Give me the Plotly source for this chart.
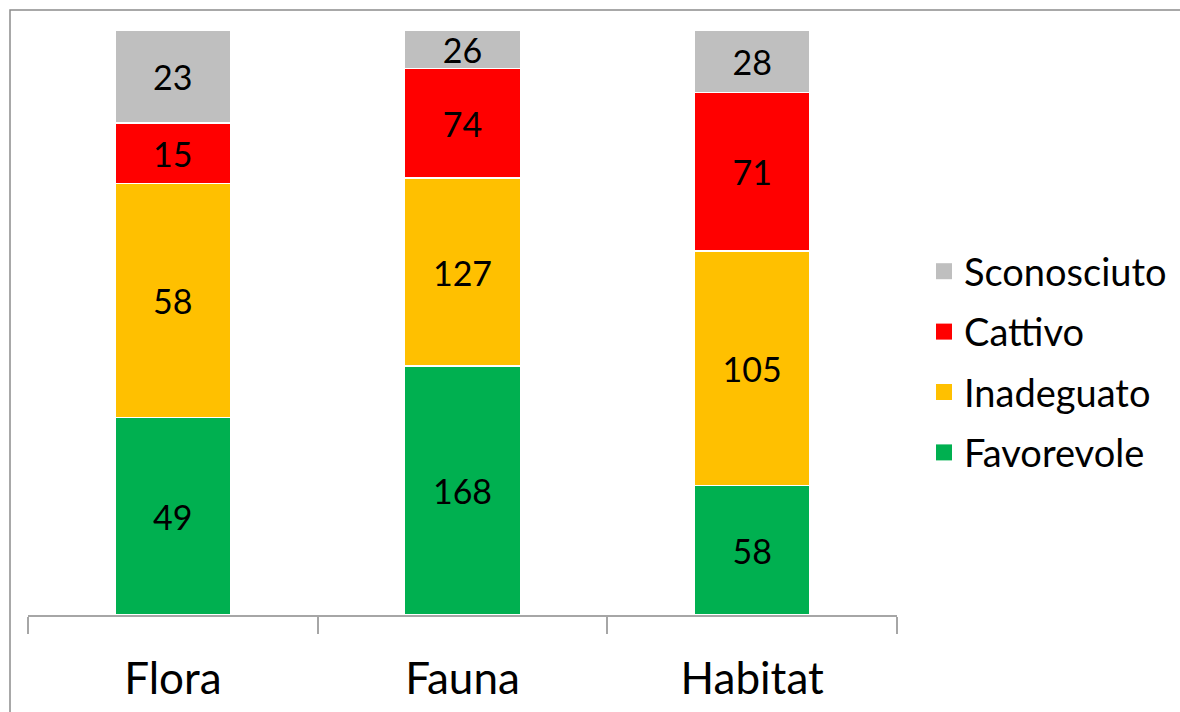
import plotly.graph_objects as go

categories = ["Flora", "Fauna", "Habitat"]
favorevole = [49, 168, 58]
inadeguato = [58, 127, 105]
cattivo = [15, 74, 71]
sconosciuto = [23, 26, 28]

series = [
    ("Favorevole", favorevole, "#00B050"),
    ("Inadeguato", inadeguato, "#FFC000"),
    ("Cattivo", cattivo, "#FF0000"),
    ("Sconosciuto", sconosciuto, "#BFBFBF"),
]

W, H = 1180, 712
ml, mr, mt, mb = 28, 283, 30, 97
pw, ph = W - ml - mr, H - mt - mb

FONT = "Lato, 'Open Sans', sans-serif"

fig = go.Figure()
for name, vals, color in series:
    fig.add_trace(go.Bar(
        x=categories, y=vals, name=name,
        marker=dict(color=color, line=dict(color="white", width=1.5)),
        text=[str(v) for v in vals],
        textposition="inside", insidetextanchor="middle", textangle=0,
        textfont=dict(family=FONT, size=34, color="black"),
        constraintext="none",
        showlegend=False,
    ))

# legend entries with larger square swatches, top segment listed first
for name, vals, color in reversed(series):
    fig.add_trace(go.Scatter(
        x=[None], y=[None], mode="markers", name=name,
        legendgroup=name,
        marker=dict(symbol="square", size=20, color=color),
    ))

# outer frame around the chart area (pixel -> paper coordinates)
def px_x(p):
    return (p - ml) / pw

def px_y(p):
    return (H - mb - p) / ph

fig.add_shape(type="rect", xref="paper", yref="paper",
              x0=px_x(10), x1=px_x(W + 20), y0=px_y(H + 20), y1=px_y(10),
              line=dict(color="#8C8C8C", width=1.5), fillcolor="rgba(0,0,0,0)",
              layer="below")

fig.update_layout(
    width=W, height=H,
    barmode="stack", barnorm="percent", bargap=0.6,
    margin=dict(l=ml, r=mr, t=mt, b=mb, autoexpand=False),
    paper_bgcolor="white", plot_bgcolor="white",
    font=dict(family=FONT, color="black"),
    uniformtext=dict(mode="show", minsize=34),
    legend=dict(
        traceorder="grouped",
        x=px_x(924), xanchor="left",
        y=px_y(362), yanchor="middle",
        font=dict(family=FONT, size=38, color="black"),
        bgcolor="rgba(0,0,0,0)",
        itemsizing="trace",
        tracegroupgap=8,
    ),
    xaxis=dict(
        showline=True, linecolor="#A6A6A6", linewidth=1.5,
        ticks="outside", tickson="boundaries", ticklen=17,
        tickcolor="#A6A6A6", tickwidth=1.5,
        tickfont=dict(family=FONT, size=44, color="black"),
        ticklabelstandoff=24,
        showgrid=False, zeroline=False,
    ),
    yaxis=dict(visible=False, range=[0, 100], showgrid=False, zeroline=False),
)

fig.write_html("out.html")
